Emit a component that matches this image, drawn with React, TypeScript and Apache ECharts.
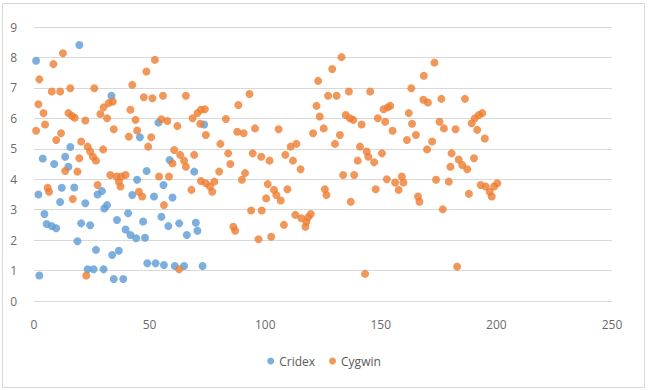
import React, { useEffect, useRef } from "react";
import * as echarts from "echarts";

const seriesNames = ["Cridex", "Cygwin"];
const xTicks = { min: 0, max: 250, interval: 50 };
const yTicks = { min: 0, max: 9, interval: 1 };

const cridexX = [0.9, 2.3, 1.9, 3.8, 4.5, 5.5, 7.7, 9.6, 8.7, 11.3, 12.0, 13.5, 14.9, 15.7, 17.4, 18.8, 19.6, 20.4, 22.2, 23.2, 24.3, 25.8, 26.8, 27.5, 29.4, 30.1, 30.4, 31.6, 33.5, 33.8, 35.9, 36.7, 34.5, 38.6, 39.6, 40.7, 41.7, 42.5, 44.2, 44.6, 45.8, 47.2, 48.0, 48.7, 49.0, 51.9, 52.6, 53.8, 55.1, 56.0, 56.2, 58.1, 58.7, 59.9, 60.9, 62.8, 64.9, 66.1, 69.3, 70.0, 70.7, 72.9, 73.6];
const cridexY = [7.89, 0.84, 3.5, 4.68, 2.86, 2.53, 2.46, 2.39, 4.5, 3.25, 3.72, 4.74, 4.41, 5.06, 3.73, 1.96, 8.41, 2.55, 3.21, 1.04, 2.49, 1.04, 1.68, 3.5, 3.61, 1.04, 3.04, 3.15, 6.74, 1.51, 2.66, 1.65, 0.72, 0.72, 2.35, 2.88, 2.17, 3.48, 2.06, 3.98, 5.38, 2.61, 2.08, 4.27, 1.24, 3.43, 1.24, 5.86, 2.77, 3.81, 1.18, 2.46, 4.63, 3.4, 1.15, 2.55, 1.15, 2.17, 4.25, 2.57, 2.31, 1.15, 5.8];

const cygwinX = [0.9, 2.3, 1.9, 4.1, 4.8, 5.9, 6.5, 8.4, 7.7, 11.3, 12.5, 9.6, 11.7, 13.5, 15.7, 14.9, 16.4, 17.6, 16.8, 18.8, 19.6, 20.4, 22.2, 22.6, 23.2, 24.3, 25.5, 26.8, 26.1, 27.5, 28.7, 29.9, 30.1, 31.6, 33.0, 32.3, 34.1, 34.5, 35.7, 36.7, 37.4, 37.7, 39.6, 41.0, 41.7, 42.5, 43.9, 44.6, 45.4, 46.8, 47.5, 48.6, 49.4, 50.7, 51.2, 52.3, 54.1, 55.1, 55.8, 56.2, 57.7, 58.4, 59.9, 60.6, 62.0, 62.8, 63.2, 64.9, 65.7, 65.7, 68.1, 68.6, 69.3, 70.7, 71.9, 72.2, 73.9, 74.3, 72.2, 74.3, 76.1, 77.1, 78.0, 80.1, 80.6,
  83.0, 84.0, 84.9, 86.2, 87.0, 87.9, 88.4, 90.7, 89.9, 91.3, 93.2, 93.9, 94.6, 95.6, 97.1, 98.3, 98.5, 100.4, 101.1, 101.9, 102.6, 103.8, 104.8, 105.8, 106.7, 108.1, 108.7, 109.6, 111.0, 112.0, 113.0, 113.5, 115.3, 115.6, 117.4, 117.8, 118.6, 119.7, 120.7, 122.2, 122.9, 123.6, 125.3, 125.8, 126.5, 127.2, 129.0, 130.2, 130.9, 132.3, 133.0, 133.7, 134.8, 136.6, 136.2, 137.0, 138.1, 138.5, 140.0, 141.0, 141.7, 143.2, 143.9, 144.6, 145.4, 147.1, 147.8, 148.7, 150.5, 151.2, 153.0, 151.9, 152.6, 154.1, 155.1, 156.2, 157.7, 159.1, 159.8, 161.3, 162.1, 163.2, 163.5, 165.2, 166.1, 166.7, 168.4, 170.4, 168.6,
  170.0, 172.2, 173.2, 173.9, 175.4, 176.2, 177.3, 176.8, 179.4, 180.6, 180.1, 182.3, 183.0, 183.7, 185.2, 186.4, 187.4, 188.1, 189.3, 190.3, 190.7, 191.7, 192.4, 193.9, 195.0, 193.2, 195.4, 197.1, 198.0, 200.4, 199.0];
const cygwinY = [5.59, 7.28, 6.46, 6.17, 5.8, 3.72, 3.59, 7.78, 6.88, 6.88, 8.14, 5.29, 5.51, 4.27, 6.99, 6.17, 6.08, 6.02, 3.35, 4.25, 4.69, 5.24, 5.93, 0.84, 5.07, 4.91, 4.74, 4.61, 6.99, 3.81, 6.14, 4.98, 6.36, 6.0, 4.14, 6.5, 6.55, 5.64, 4.09, 3.92, 3.76, 4.09, 4.14, 5.4, 6.28, 7.1, 5.95, 5.6, 3.59, 3.43, 6.69, 7.54, 5.07, 5.38, 6.66, 7.92, 4.09, 5.97, 6.74, 3.15, 5.91, 4.09, 4.52, 4.96, 5.75, 1.04, 4.8, 4.61, 6.74, 4.41, 3.65, 6.0, 4.8, 6.17, 5.82, 6.28, 6.3, 5.45, 3.94, 3.87, 3.76, 3.59, 3.92, 4.25, 5.16,
  5.98, 4.85, 4.5, 2.44, 2.31, 5.56, 6.44, 5.51, 3.98, 4.2, 6.8, 2.97, 4.85, 5.67, 2.03, 4.74, 2.97, 3.37, 3.84, 4.61, 2.11, 3.65, 3.48, 5.64, 3.3, 2.5, 4.8, 3.67, 5.07, 4.61, 2.83, 5.16, 4.33, 2.72, 2.44, 2.6, 2.75, 2.86, 5.51, 6.41, 7.23, 6.06, 5.67, 3.67, 3.48, 6.74, 7.62, 5.16, 6.74, 5.45, 8.01, 4.14, 6.11, 6.0, 6.88, 3.26, 5.95, 4.14, 4.61, 5.07, 5.8, 0.89, 4.91, 4.74, 6.88, 4.56, 3.67, 6.0, 4.85, 6.3, 6.36, 5.89, 4.0, 6.41, 5.59, 3.89, 3.65, 4.09, 3.89, 5.29, 6.17, 6.99, 5.82, 5.45, 3.43, 3.26, 6.61, 6.52, 7.4,
  4.98, 5.24, 7.83, 3.98, 5.89, 6.64, 5.67, 3.01, 3.92, 4.85, 4.41, 5.64, 1.13, 4.65, 4.47, 6.64, 4.33, 3.52, 5.84, 4.69, 6.0, 5.62, 6.11, 6.17, 5.34, 3.81, 3.76, 3.59, 3.43, 3.87, 3.76];

const pairs = (xs: number[], ys: number[]) => xs.map((x, i) => [x, ys[i]]);

export default function App() {
  const ref = useRef<HTMLDivElement>(null);
  useEffect(() => {
    if (!ref.current) return;
    const chart = echarts.init(ref.current, null, { renderer: "svg" });
    const font = "'Open Sans', 'Liberation Sans', sans-serif";
    chart.setOption({
      animation: false,
      backgroundColor: "#ffffff",
      color: ["#5B9BD5", "#ED7D31"],
      textStyle: { fontFamily: font },
      graphic: [
        {
          type: "rect",
          shape: { x: 2.5, y: 3.5, width: 642, height: 384 },
          style: { fill: "none", stroke: "#d9d9d9", lineWidth: 1 },
          silent: true,
        },
      ],
      grid: { left: 34, right: 36, top: 27, bottom: 89 },
      legend: {
        data: seriesNames,
        bottom: 18,
        left: "center",
        icon: "circle",
        itemWidth: 7,
        itemHeight: 7,
        itemGap: 14,
        textStyle: { color: "#595959", fontSize: 12, fontFamily: font },
      },
      xAxis: {
        type: "value",
        min: xTicks.min,
        max: xTicks.max,
        interval: xTicks.interval,
        axisLine: { show: false },
        axisTick: { show: false },
        splitLine: { show: false },
        axisLabel: { color: "#6b6b6b", fontSize: 12, margin: 17, fontFamily: font },
      },
      yAxis: {
        type: "value",
        min: yTicks.min,
        max: yTicks.max,
        interval: yTicks.interval,
        axisLine: { show: false },
        axisTick: { show: false },
        splitLine: { lineStyle: { color: "#d9d9d9", width: 1 } },
        axisLabel: { color: "#6b6b6b", fontSize: 12, margin: 17, fontFamily: font },
      },
      series: [
        {
          name: seriesNames[0],
          type: "scatter",
          symbol: "circle",
          symbolSize: 8,
          data: pairs(cridexX, cridexY),
        },
        {
          name: seriesNames[1],
          type: "scatter",
          symbol: "circle",
          symbolSize: 8,
          data: pairs(cygwinX, cygwinY),
        },
      ],
    });
    return () => chart.dispose();
  }, []);
  return (
    <div
      ref={ref}
      style={{ position: "absolute", left: 0, top: 0, width: 648, height: 390 }}
    />
  );
}
